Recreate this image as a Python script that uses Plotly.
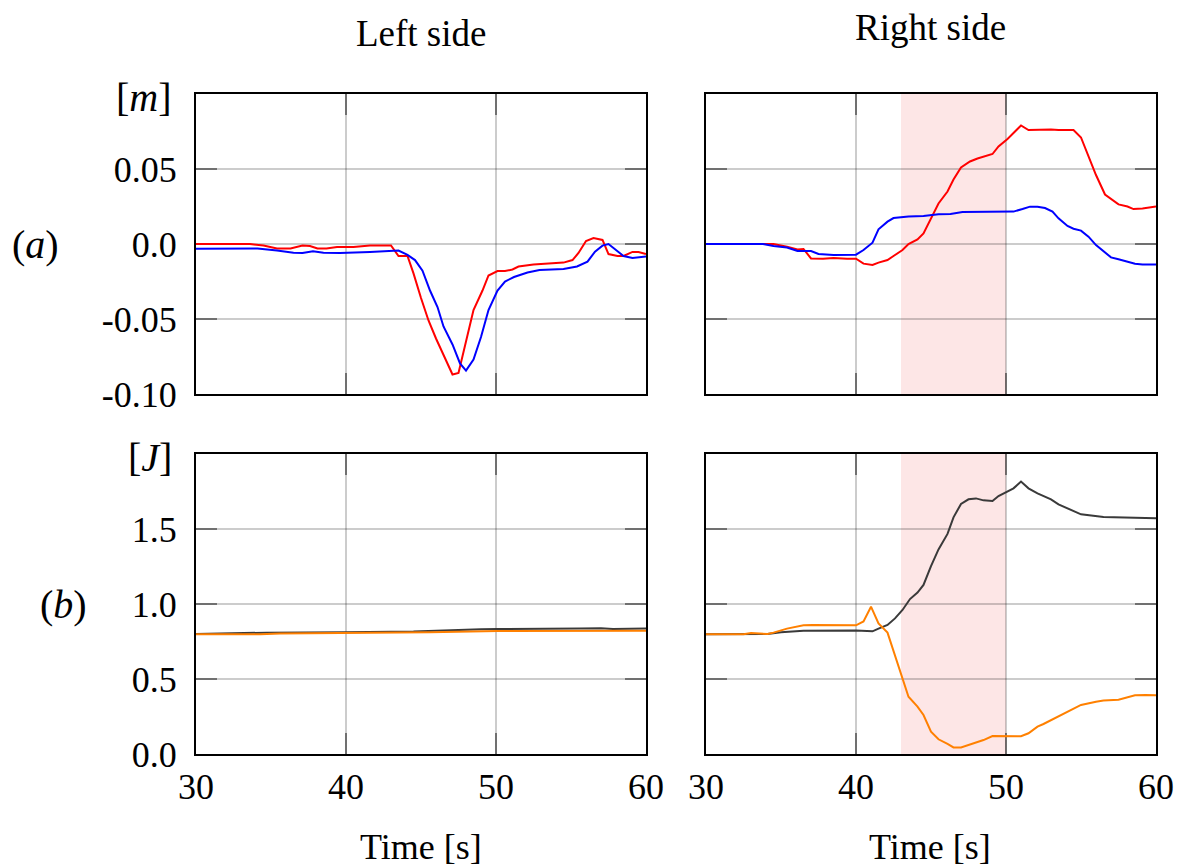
import plotly.graph_objects as go

# ---------------- data ----------------
# Left side, row (a): displacement [m]
la_red_t = [30, 33.6, 34.5, 35.4, 36.3, 37.1, 37.6, 38.1, 38.7, 39.4, 40.5, 41.6, 43.0, 43.5, 44.1, 44.5, 45.0, 45.5,
            46.0, 46.5, 47.1, 47.5, 48.1, 48.5, 49.1, 49.5, 50.1, 50.6, 51.1, 51.5, 52.5, 54.1, 54.5, 55.1, 55.5,
            56.0, 56.5, 57.1, 57.5, 58.1, 58.5, 59.1, 59.5, 60.0]
la_red_v = [0.0, 0.0, -0.001, -0.003, -0.003, -0.001, -0.0013, -0.003, -0.003, -0.002, -0.002, -0.001, -0.001,
            -0.008, -0.008, -0.0196, -0.036, -0.051, -0.063, -0.074, -0.087, -0.086, -0.062, -0.044, -0.031, -0.021,
            -0.018, -0.018, -0.017, -0.015, -0.0136, -0.013, -0.0124, -0.0107, -0.006, 0.002, 0.004, 0.0027,
            -0.0067, -0.008, -0.008, -0.0053, -0.0053, -0.0067]
la_blue_t = [30, 34.1, 35.4, 36.5, 37.1, 37.8, 38.5, 39.6, 41.6, 42.5, 43.5, 44.1, 44.6, 45.1, 45.6, 46.1, 46.5,
             47.1, 47.6, 48.0, 48.5, 49.0, 49.5, 50.1, 50.6, 51.2, 52.1, 52.9, 54.5, 55.4, 56.1, 56.6, 57.1, 57.5,
             58.0, 58.5, 59.1, 60.0]
la_blue_v = [-0.0031, -0.003, -0.0044, -0.0058, -0.006, -0.0049, -0.0058, -0.006, -0.0053, -0.0047, -0.0044,
             -0.0073, -0.0107, -0.0178, -0.031, -0.042, -0.055, -0.067, -0.0796, -0.0844, -0.077, -0.062, -0.044,
             -0.031, -0.025, -0.022, -0.019, -0.0173, -0.0167, -0.015, -0.0118, -0.0051, -0.0011, 0.0, -0.004,
             -0.008, -0.0093, -0.0084]

# Right side, row (a)
ra_red_t = [30, 33.4, 34.5, 35.4, 36.1, 36.5, 37.0, 37.8, 38.5, 39.4, 40.0, 40.5, 41.1, 41.5, 42.1, 42.5, 43.1,
            43.5, 44.1, 44.5, 45.0, 45.5, 46.1, 46.5, 47.0, 47.6, 48.1, 48.5, 49.1, 49.5, 50.1, 50.5, 51.0, 51.5,
            53.0, 53.5, 54.5, 55.0, 55.5, 56.0, 56.6, 57.0, 57.5, 58.1, 58.5, 59.1, 59.5, 60.0]
ra_red_v = [0.0, 0.0, 0.0, -0.0018, -0.0036, -0.0033, -0.0096, -0.0098, -0.0093, -0.0098, -0.0098, -0.0131,
            -0.014, -0.0124, -0.0107, -0.008, -0.004, 0.0, 0.0031, 0.0071, 0.017, 0.027, 0.035, 0.043, 0.051,
            0.055, 0.057, 0.058, 0.060, 0.065, 0.070, 0.074, 0.079, 0.076, 0.0764, 0.076, 0.076, 0.071, 0.058,
            0.046, 0.033, 0.030, 0.0264, 0.025, 0.0233, 0.0236, 0.0244, 0.025]
ra_blue_t = [30, 33.8, 34.5, 35.4, 36.1, 37.0, 37.5, 38.5, 40.0, 40.5, 41.1, 41.5, 42.1, 42.5, 43.5, 44.5, 45.5,
             46.3, 47.1, 48.5, 50.5, 51.1, 51.6, 52.1, 52.6, 53.1, 53.5, 54.1, 54.5, 55.0, 55.5, 56.0, 56.5, 57.0,
             57.5, 58.1, 58.6, 59.1, 60.0]
ra_blue_v = [0.0, 0.0, -0.0013, -0.0024, -0.0047, -0.0047, -0.0067, -0.0073, -0.0071, -0.004, 0.0009, 0.0098,
             0.0149, 0.0173, 0.0184, 0.0187, 0.0198, 0.020, 0.0213, 0.0216, 0.0216, 0.0233, 0.0249, 0.0249, 0.024,
             0.0216, 0.0171, 0.012, 0.0102, 0.0089, 0.0049, -0.0007, -0.0051, -0.0089, -0.0102, -0.012, -0.0131,
             -0.0136, -0.0136]

# Left side, row (b): energy [J]
lb_dark_t = [30, 34.7, 40.0, 44.5, 49.0, 50.1, 55.6, 57.0, 57.8, 60.0]
lb_dark_v = [0.80, 0.809, 0.811, 0.816, 0.831, 0.833, 0.836, 0.838, 0.833, 0.836]
lb_orange_t = [30, 34.3, 35.6, 40.0, 45.6, 50.1, 60.0]
lb_orange_v = [0.798, 0.798, 0.804, 0.807, 0.811, 0.820, 0.822]

# Right side, row (b)
rb_dark_t = [30, 33.0, 34.1, 35.0, 36.5, 40.0, 40.5, 41.1, 41.5, 42.1, 42.6, 43.1, 43.6, 44.1, 44.5, 45.0, 45.5,
             46.1, 46.5, 47.0, 47.5, 48.0, 48.5, 49.1, 49.5, 50.1, 50.5, 51.0, 51.5, 52.1, 53.0, 53.5, 54.1, 55.0,
             56.5, 57.5, 58.5, 60.0]
rb_dark_v = [0.798, 0.798, 0.80, 0.811, 0.822, 0.824, 0.82, 0.818, 0.836, 0.86, 0.904, 0.96, 1.033, 1.076, 1.127,
             1.253, 1.364, 1.467, 1.578, 1.667, 1.698, 1.704, 1.691, 1.687, 1.72, 1.753, 1.771, 1.816, 1.771, 1.738,
             1.698, 1.664, 1.638, 1.598, 1.58, 1.578, 1.571, 1.571]
rb_orange_t = [30, 32.5, 33.0, 34.1, 34.5, 35.4, 36.5, 37.1, 40.0, 40.5, 41.0, 41.5, 42.1, 42.6, 43.0, 43.5, 44.1,
               44.5, 45.0, 45.5, 46.1, 46.5, 47.0, 47.5, 48.1, 48.5, 49.1, 49.9, 50.5, 51.0, 51.5, 52.1, 52.5, 53.1,
               54.1, 55.0, 56.0, 56.5, 57.5, 58.1, 58.6, 59.3, 60.0]
rb_orange_v = [0.798, 0.798, 0.807, 0.80, 0.809, 0.836, 0.858, 0.86, 0.858, 0.884, 0.982, 0.871, 0.809, 0.66,
               0.527, 0.382, 0.316, 0.26, 0.149, 0.098, 0.067, 0.044, 0.044, 0.06, 0.078, 0.093, 0.12, 0.12, 0.122,
               0.118, 0.138, 0.182, 0.20, 0.231, 0.282, 0.327, 0.349, 0.356, 0.362, 0.378, 0.391, 0.393, 0.391]

x_ticks = [30, 40, 50, 60]
ya_ticks = [-0.10, -0.05, 0.0, 0.05, 0.10]
ya_labels = ["-0.10", "-0.05", "0.0", "0.05", ""]
yb_ticks = [0.0, 0.5, 1.0, 1.5, 2.0]
yb_labels = ["0.0", "0.5", "1.0", "1.5", ""]
shade_range = [43, 50]

RED, BLUE, DARK, ORANGE = "#ff0000", "#0000ff", "#3a3a3a", "#ff8000"
FONT = "Liberation Serif"
FS = 36

# ---------------- figure ----------------
fig = go.Figure()

def add(t, v, color, xa, ya):
    fig.add_trace(go.Scatter(x=t, y=v, mode="lines", line=dict(color=color, width=2),
                             xaxis=xa, yaxis=ya, showlegend=False, hoverinfo="skip"))

add(la_red_t, la_red_v, RED, "x", "y")
add(la_blue_t, la_blue_v, BLUE, "x", "y")
add(ra_red_t, ra_red_v, RED, "x2", "y2")
add(ra_blue_t, ra_blue_v, BLUE, "x2", "y2")
add(lb_dark_t, lb_dark_v, DARK, "x3", "y3")
add(lb_orange_t, lb_orange_v, ORANGE, "x3", "y3")
add(rb_dark_t, rb_dark_v, DARK, "x4", "y4")
add(rb_orange_t, rb_orange_v, ORANGE, "x4", "y4")

W, H = 1186, 868
xl = [196 / W, 646 / W]
xr = [706 / W, 1156 / W]
yt = [1 - 394 / H, 1 - 94 / H]
yb = [1 - 754 / H, 1 - 454 / H]

common = dict(showline=True, linecolor="black", linewidth=2, mirror="ticks",
              ticks="inside", ticklen=21, tickwidth=1.5, tickcolor="rgba(0,0,0,0.45)",
              showgrid=True, gridcolor="rgba(0,0,0,0.2)", gridwidth=1.5, zeroline=False,
              layer="below traces", automargin=False,
              tickfont=dict(family=FONT, size=FS, color="black"))

def xax(dom, anchor, labels):
    return dict(domain=dom, anchor=anchor, range=[30, 60], tickvals=x_ticks,
                ticktext=[str(v) for v in x_ticks], showticklabels=labels, **common)

def yax(dom, anchor, ticks, texts, rng, labels):
    return dict(domain=dom, anchor=anchor, range=rng, tickvals=ticks, ticktext=texts,
                showticklabels=labels, ticklabelstandoff=10, **common)

fig.update_layout(
    width=W, height=H, margin=dict(l=0, r=0, t=0, b=0),
    paper_bgcolor="white", plot_bgcolor="rgba(0,0,0,0)",
    xaxis=xax(xl, "y", False), yaxis=yax(yt, "x", ya_ticks, ya_labels, [-0.1, 0.1], True),
    xaxis2=xax(xr, "y2", False), yaxis2=yax(yt, "x2", ya_ticks, ya_labels, [-0.1, 0.1], False),
    xaxis3=xax(xl, "y3", True), yaxis3=yax(yb, "x3", yb_ticks, yb_labels, [0, 2], True),
    xaxis4=xax(xr, "y4", True), yaxis4=yax(yb, "x4", yb_ticks, yb_labels, [0, 2], False),
)

for xa, ya in [("x2", "y2 domain"), ("x4", "y4 domain")]:
    fig.add_shape(type="rect", xref=xa, yref=ya, x0=shade_range[0], x1=shade_range[1], y0=0, y1=1,
                  fillcolor="rgba(240,60,60,0.13)", line_width=0, layer="below")

def ann(text, x, y, xanchor="center", size=FS):
    fig.add_annotation(text=text, x=x / W, y=1 - y / H, xref="paper", yref="paper",
                       showarrow=False, xanchor=xanchor, yanchor="middle",
                       font=dict(family=FONT, size=size, color="black"))

ann("Left side", 421, 33, size=37)
ann("Right side", 930, 27, size=37)
ann("Time [s]", 421, 847)
ann("Time [s]", 930, 847)
ann("[<i>m</i>]", 174, 97, "right", size=40)
ann("[<i>J</i>]", 174, 457, "right", size=40)
ann("(<i>a</i>)", 35, 244, size=40)
ann("(<i>b</i>)", 63, 604, size=40)

fig.write_html("out.html")
